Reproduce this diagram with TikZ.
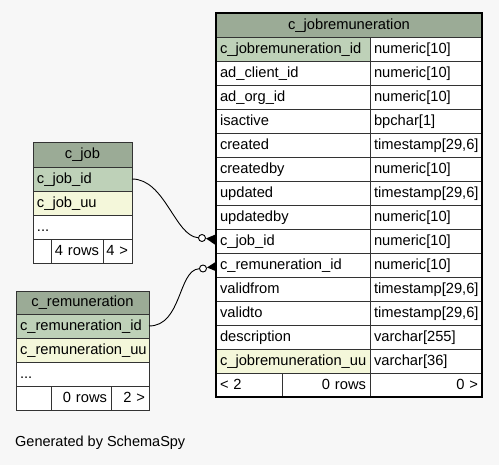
\documentclass[tikz,border=0pt]{standalone}
\usepackage{fontspec}
\setmainfont{Liberation Sans}
\definecolor{bg}{HTML}{F7F7F7}
\definecolor{hdr}{HTML}{9BAB96}
\definecolor{pk}{HTML}{BED1B8}
\definecolor{idx}{HTML}{F4F7DA}
\definecolor{cellline}{HTML}{333333}
\tikzset{
  cellbase/.style={draw=cellline, line width=0.9pt, inner xsep=4pt, inner ysep=0pt,
    outer sep=0pt, anchor=north west, text=black, align=left,
    font=\fontsize{14.7}{17}\selectfont, text height=10.6pt, text depth=2pt},
  crowdot/.style={circle, draw=black, fill=white, line width=0.9pt, minimum size=7pt, inner sep=0pt},
  conn/.style={draw=black, line width=0.9pt}
}
% name, x, y, width, height, fill, text, alignment (l, r, c)
\newcommand\mycell[8]{\pgfmathsetlengthmacro\tw{#4-8}%
  \node[cellbase, fill=#6, minimum height=#5pt, text width=\tw] (#1) at (#2,#3) {\makebox[\hsize][#8]{#7}};}
\begin{document}
\begin{tikzpicture}[x=1pt,y=-1pt]
\useasboundingbox[fill=bg] (0,0) rectangle (499,465);

% ---------------- main table c_jobremuneration ----------------
\mycell{mh}{216}{13}{266}{24}{hdr}{c\_jobremuneration}{c}
\mycell{m0}{216}{37}{154}{24}{pk}{c\_jobremuneration\_id}{l}
\mycell{t0}{370}{37}{112}{24}{white}{numeric[10]}{l}
\mycell{m1}{216}{61}{154}{24}{white}{ad\_client\_id}{l}
\mycell{t1}{370}{61}{112}{24}{white}{numeric[10]}{l}
\mycell{m2}{216}{85}{154}{24}{white}{ad\_org\_id}{l}
\mycell{t2}{370}{85}{112}{24}{white}{numeric[10]}{l}
\mycell{m3}{216}{109}{154}{24}{white}{isactive}{l}
\mycell{t3}{370}{109}{112}{24}{white}{bpchar[1]}{l}
\mycell{m4}{216}{133}{154}{24}{white}{created}{l}
\mycell{t4}{370}{133}{112}{24}{white}{timestamp[29,6]}{l}
\mycell{m5}{216}{157}{154}{24}{white}{createdby}{l}
\mycell{t5}{370}{157}{112}{24}{white}{numeric[10]}{l}
\mycell{m6}{216}{181}{154}{24}{white}{updated}{l}
\mycell{t6}{370}{181}{112}{24}{white}{timestamp[29,6]}{l}
\mycell{m7}{216}{205}{154}{24}{white}{updatedby}{l}
\mycell{t7}{370}{205}{112}{24}{white}{numeric[10]}{l}
\mycell{m8}{216}{229}{154}{24}{white}{c\_job\_id}{l}
\mycell{t8}{370}{229}{112}{24}{white}{numeric[10]}{l}
\mycell{m9}{216}{253}{154}{24}{white}{c\_remuneration\_id}{l}
\mycell{t9}{370}{253}{112}{24}{white}{numeric[10]}{l}
\mycell{m10}{216}{277}{154}{24}{white}{validfrom}{l}
\mycell{t10}{370}{277}{112}{24}{white}{timestamp[29,6]}{l}
\mycell{m11}{216}{301}{154}{24}{white}{validto}{l}
\mycell{t11}{370}{301}{112}{24}{white}{timestamp[29,6]}{l}
\mycell{m12}{216}{325}{154}{24}{white}{description}{l}
\mycell{t12}{370}{325}{112}{24}{white}{varchar[255]}{l}
\mycell{m13}{216}{349}{154}{24}{idx}{c\_jobremuneration\_uu}{l}
\mycell{t13}{370}{349}{112}{24}{white}{varchar[36]}{l}
\mycell{mf1}{216}{373}{66}{24}{white}{< 2}{l}
\mycell{mf2}{282}{373}{88}{24}{white}{0 rows}{r}
\mycell{mf3}{370}{373}{112}{24}{white}{0 >}{r}
\draw[line width=2.6pt, black] (mh.north west) rectangle (mf3.south east);

% ---------------- c_job ----------------
\mycell{jh}{33}{142}{99}{25}{hdr}{c\_job}{c}
\mycell{j0}{33}{167}{99}{24}{pk}{c\_job\_id}{l}
\mycell{j1}{33}{191}{99}{24}{idx}{c\_job\_uu}{l}
\mycell{j2}{33}{215}{99}{24}{white}{...}{l}
\mycell{jf1}{33}{239}{18}{24}{white}{}{l}
\mycell{jf2}{51}{239}{52}{24}{white}{4 rows}{r}
\mycell{jf3}{103}{239}{29}{24}{white}{4 >}{r}

% ---------------- c_remuneration ----------------
\mycell{rh}{16}{291}{133}{23}{hdr}{c\_remuneration}{c}
\mycell{r0}{16}{314}{133}{24}{pk}{c\_remuneration\_id}{l}
\mycell{r1}{16}{338}{133}{24}{idx}{c\_remuneration\_uu}{l}
\mycell{r2}{16}{362}{133}{24}{white}{...}{l}
\mycell{rf1}{16}{386}{35}{24}{white}{}{l}
\mycell{rf2}{51}{386}{60}{24}{white}{0 rows}{r}
\mycell{rf3}{111}{386}{38}{24}{white}{2 >}{r}

% ---------------- connectors ----------------
\fill[black] (206,238.5) -- (215.5,234.5) -- (215.5,245) -- cycle;
\fill[black] (207,267.5) -- (215.5,262) -- (215.5,271) -- cycle;
\node[crowdot] (c1) at (202,238) {};
\node[crowdot] (c2) at (203,268.5) {};
\draw[conn] (j0.east) .. controls (165,179) and (175,236) .. (c1);
\draw[conn] (r0.east) .. controls (182,326) and (178,270) .. (c2);

% ---------------- caption ----------------
\node[anchor=west, inner sep=0pt, font=\fontsize{14.5}{16}\selectfont] (cap) at (15,443) {Generated by SchemaSpy};
\end{tikzpicture}
\end{document}
